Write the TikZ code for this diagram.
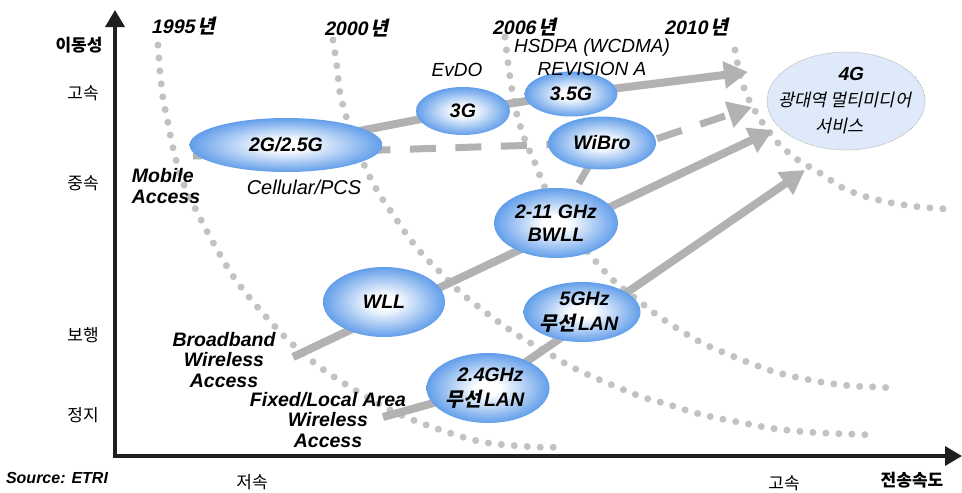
\documentclass[tikz,border=0pt]{standalone}
\usepackage{fontspec}
\setmainfont{Liberation Sans}
\newfontfamily\krfont{Noto Sans CJK KR}
\usetikzlibrary{shapes.geometric,arrows.meta,backgrounds}

\definecolor{cellblue}{RGB}{98,158,234}
\definecolor{flowgray}{RGB}{178,178,178}
\definecolor{dotgray}{RGB}{194,194,194}
\definecolor{futureblue}{RGB}{222,233,250}
\pgfdeclareradialshading{cellshade}{\pgfpoint{0bp}{0bp}}{color(0bp)=(white); color(5bp)=(white); color(25bp)=(cellblue); color(50bp)=(cellblue)}

\begin{document}
\begin{tikzpicture}[x=1pt, y=-1pt,
  cell/.style={ellipse, shading=cellshade, inner sep=0pt, align=center,
    font=\fontsize{19.5}{23}\selectfont\bfseries\itshape},
  future/.style={ellipse, fill=futureblue, draw=black!35, densely dotted, line width=0.7pt},
  slanted/.style={xslant=0.21, transform shape, inner sep=0pt, align=center},
  celltext/.style={slanted, font=\fontsize{19.5}{25}\selectfont\bfseries},
  flow/.style={draw=flowgray, line width=8pt, arrows={-Triangle[length=24pt,width=26pt]}},
  dflow/.style={draw=flowgray, line width=7pt, dash pattern=on 26pt off 19.5pt},
  era/.style={draw=dotgray, line width=7pt, line cap=round, dash pattern=on 0pt off 13pt},
  axis/.style={draw=black!88, line width=3.5pt,
    arrows={Triangle[length=17pt,width=19pt]-Triangle[length=17pt,width=19pt]}},
  eralbl/.style={slanted, font=\fontsize{19.5}{22}\selectfont\bfseries},
  techlbl/.style={align=center, font=\fontsize{19}{23}\selectfont\itshape},
  accesslbl/.style={align=center, font=\fontsize{19.5}{20.5}\selectfont\bfseries\itshape},
  speedlbl/.style={font=\krfont\fontsize{17}{20}\selectfont}]
  \useasboundingbox (0,0) rectangle (962,493);

  % Axes
  \coordinate (ytop) at (115,10);
  \coordinate (origin) at (115,456);
  \coordinate (xend) at (962,456);
  \draw[axis] (ytop) -- (origin) -- (xend);

  % Axis labels
  \node[speedlbl] (mobility) at (79,45) {\bfseries 이동성};
  \node[speedlbl] (yfast) at (83,93) {고속};
  \node[speedlbl] (ymid) at (83,183) {중속};
  \node[speedlbl] (ywalk) at (83,335) {보행};
  \node[speedlbl] (ystop) at (83,415) {정지};
  \node[speedlbl] (xslow) at (252,482) {저속};
  \node[speedlbl] (xfast) at (784,483) {고속};
  \node[speedlbl] (rate) at (912,480) {\bfseries 전송속도};
  \node[font=\fontsize{16}{18}\selectfont\bfseries\itshape] (source) at (57,478) {Source: ETRI};

  % Era labels
  \coordinate (e1995) at (185,26);
  \coordinate (e2000) at (358,28);
  \coordinate (e2006) at (526,27);
  \coordinate (e2010) at (698,27);
  \node[eralbl] (y1995) at (e1995) {1995\,{\krfont 년}};
  \node[eralbl] (y2000) at (e2000) {2000\,{\krfont 년}};
  \node[eralbl] (y2006) at (e2006) {2006\,{\krfont 년}};
  \node[eralbl] (y2010) at (e2010) {2010\,{\krfont 년}};

  % Technologies
  \node[cell, minimum width=193pt, minimum height=54pt] (g2) at (286,145) {2G/2.5G};
  \node[cell, minimum width=94pt, minimum height=48pt] (g3) at (463,111) {3G};
  \node[cell, minimum width=93pt, minimum height=45pt] (g35) at (571,94) {3.5G};
  \node[cell, minimum width=108pt, minimum height=53pt] (wibro) at (602,143) {WiBro};
  \node[cell, minimum width=124pt, minimum height=70pt] (bwll) at (556,223) {2-11 GHz\\BWLL};
  \node[cell, minimum width=122pt, minimum height=70pt] (wll) at (384,302) {WLL};
  \node[cell, minimum width=117pt, minimum height=60pt] (wlan5) at (582,312) {};
  \node[cell, minimum width=123pt, minimum height=70pt] (wlan24) at (488,388) {};
  \node[future, minimum width=158pt, minimum height=98pt] (g4) at (846,101) {};
  \node[celltext] (wlan5 text) at (wlan5.center) {5GHz\\{\krfont 무선}\kern2pt LAN};
  \node[celltext] (wlan24 text) at (wlan24.center) {2.4GHz\\{\krfont 무선}\kern2pt LAN};
  \node[slanted, font=\krfont\fontsize{17.5}{26}\selectfont] (g4 text) at (g4.center)
    {{\rmfamily\bfseries\fontsize{19}{26}\selectfont 4G}\\광대역 멀티미디어\\서비스};

  % Technology labels
  \node[techlbl] (evdo) at (457,70) {EvDO};
  \node[techlbl] (hsdpa) at (592,57) {HSDPA (WCDMA)\\REVISION A};
  \node[techlbl, font=\fontsize{20}{23}\selectfont\itshape] (pcs) at (304,187) {Cellular/PCS};
  \node[accesslbl, align=left] (mobile) at (166,186) {Mobile\\Access};
  \node[accesslbl] (bwa label) at (224,360) {Broadband\\Wireless\\Access};
  \node[accesslbl] (fla label) at (328,420) {Fixed/Local Area\\Wireless\\Access};

  % Flow ends
  \coordinate (bwa) at (293,357);
  \coordinate (fla) at (383,417);
  \coordinate (dsta) at (193,156);
  \coordinate (tipa) at (748,72);
  \coordinate (tipb) at (773,130);
  \coordinate (tipc) at (805,170);
  \coordinate (tipd) at (752,107);

  \begin{scope}[on background layer]
    % Era boundaries (dotted)
    \draw[era] plot[smooth] coordinates {(158,45) (160,72) (163,98) (168,123) (173,148) (182,180)
      (197,212) (215,246) (235,279) (260,310) (287,339) (317,365) (350,387) (390,410) (432,427)
      (482,442) (535,447) (562,447)};
    \draw[era] plot[smooth] coordinates {(333,40) (337,67) (340,93) (347,119) (358,145) (365,167)
      (378,192) (392,213) (407,235) (423,255) (442,274) (460,292) (480,308) (500,323) (522,338)
      (545,351) (568,365) (593,377) (617,387) (642,397) (667,404) (692,412) (717,418) (743,423)
      (770,428) (795,431) (822,433) (847,434) (873,435)};
    \draw[era] plot[smooth] coordinates {(505,37) (508,63) (512,90) (517,115) (525,140) (535,163)
      (545,188) (560,215) (580,242) (597,263) (615,282) (635,298) (657,315) (678,329) (702,343)
      (725,353) (750,363) (775,372) (800,378) (827,383) (853,386) (878,387) (892,388)};
    \draw[era] plot[smooth] coordinates {(735,50) (740,75) (748,98) (762,122) (778,143) (798,160)
      (820,173) (843,188) (867,197) (892,203) (920,207) (947,209)};

    % Migration paths
    \draw[flow] (g2.center) -- (g3.center) -- (g35.center) -- (tipa);
    \draw[flow] (bwa) -- (tipb);
    \draw[flow] (fla) -- (wlan24.center) -- (tipc);
    \draw[dflow, dash phase=10.5pt] (dsta) -- (wibro.center);
    \draw[dflow] (bwll.center) -- (wibro.center);
    \draw[dflow, dash phase=33pt, arrows={-Triangle[length=24pt,width=26pt]}]
      ([yshift=-14pt]wibro.center) -- (tipd);
  \end{scope}
\end{tikzpicture}
\end{document}
